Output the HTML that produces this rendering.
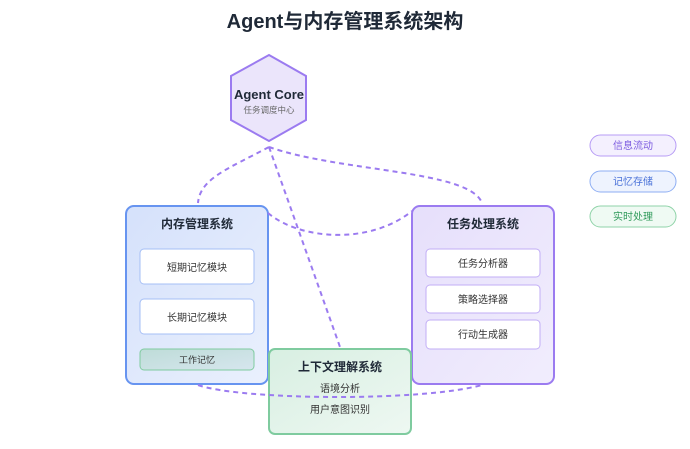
<!DOCTYPE html>
<html><head><meta charset="utf-8"><style>
body{margin:0;width:690px;height:449px;background:#fff;overflow:hidden;font-family:"Liberation Sans","Noto Sans CJK SC",sans-serif;}
svg{position:absolute;left:0;top:0}
</style></head><body>
<svg width="690" height="449" viewBox="0 0 690 449">
<defs>
<linearGradient id="gb" x1="0" y1="0" x2="1" y2="1"><stop offset="0" stop-color="#d5e1fb"/><stop offset="1" stop-color="#eaf0fd"/></linearGradient>
<linearGradient id="gp" x1="0" y1="0" x2="1" y2="1"><stop offset="0" stop-color="#e6dffb"/><stop offset="1" stop-color="#f1edfd"/></linearGradient>
<linearGradient id="gg" x1="0" y1="0" x2="1" y2="1"><stop offset="0" stop-color="#d8efe2"/><stop offset="1" stop-color="#eef8f2"/></linearGradient>
<linearGradient id="gw" x1="0" y1="0" x2="1" y2="1"><stop offset="0" stop-color="#bedcd8"/><stop offset="1" stop-color="#d6e6ee"/></linearGradient>
</defs>
<text x="345" y="28" text-anchor="middle" font-size="20" font-weight="bold" fill="#1f2937">Agent与内存管理系统架构</text>
<polygon points="269,55 306,76 306,120 269,141 231,120 231,76" fill="#ebe5fb" stroke="#9b7bf0" stroke-width="2"/>
<text x="269" y="99" text-anchor="middle" font-size="13" font-weight="bold" fill="#1f2937">Agent Core</text>
<text x="269" y="113" text-anchor="middle" font-size="8.5" fill="#666">任务调度中心</text>
<rect x="126" y="206" width="142" height="178" rx="8" fill="url(#gb)" stroke="#6794f0" stroke-width="2"/>
<text x="197" y="228" text-anchor="middle" font-size="12" font-weight="bold" fill="#1f2937">内存管理系统</text>
<rect x="140" y="249" width="114" height="35" rx="4" fill="#fff" stroke="#a5bff6"/>
<text x="197" y="271" text-anchor="middle" font-size="10" fill="#333">短期记忆模块</text>
<rect x="140" y="299" width="114" height="35" rx="4" fill="#fff" stroke="#a5bff6"/>
<text x="197" y="321" text-anchor="middle" font-size="10" fill="#333">长期记忆模块</text>
<rect x="140" y="349" width="114" height="21" rx="4" fill="url(#gw)" stroke="#7fcb9f"/>
<text x="197" y="363" text-anchor="middle" font-size="9" fill="#333">工作记忆</text>
<rect x="412" y="206" width="142" height="178" rx="8" fill="url(#gp)" stroke="#9b7bf0" stroke-width="2"/>
<text x="483" y="228" text-anchor="middle" font-size="12" font-weight="bold" fill="#1f2937">任务处理系统</text>
<rect x="426" y="249" width="114" height="28" rx="4" fill="#fff" stroke="#c2aef6"/>
<text x="483" y="267" text-anchor="middle" font-size="10" fill="#333">任务分析器</text>
<rect x="426" y="285" width="114" height="28" rx="4" fill="#fff" stroke="#c2aef6"/>
<text x="483" y="303" text-anchor="middle" font-size="10" fill="#333">策略选择器</text>
<rect x="426" y="320" width="114" height="29" rx="4" fill="#fff" stroke="#c2aef6"/>
<text x="483" y="338" text-anchor="middle" font-size="10" fill="#333">行动生成器</text>
<rect x="269" y="349" width="142" height="85" rx="6" fill="url(#gg)" stroke="#7fcb9f" stroke-width="2"/>
<text x="340" y="371" text-anchor="middle" font-size="12" font-weight="bold" fill="#1f2937">上下文理解系统</text>
<text x="340" y="392" text-anchor="middle" font-size="10" fill="#333">语境分析</text>
<text x="340" y="413" text-anchor="middle" font-size="10" fill="#333">用户意图识别</text>
<g fill="none" stroke="#9b7bf0" stroke-width="2" stroke-dasharray="5,4">
<path d="M269,147 C230,168 200,178 198,203"/>
<path d="M269,147 C340,172 470,170 482,203"/>
<path d="M269,147 L340,347"/>
<path d="M268,213 C300,240 370,245 412,211"/>
<path d="M198,385 C240,400 420,402 482,385"/>
</g>
<rect x="590" y="135" width="86" height="21" rx="10.5" fill="#f4f0fe" stroke="#b79cf5"/>
<text x="633" y="149" text-anchor="middle" font-size="10" fill="#7c5ce0">信息流动</text>
<rect x="590" y="171" width="86" height="21" rx="10.5" fill="#eef3fe" stroke="#8eaef3"/>
<text x="633" y="185" text-anchor="middle" font-size="10" fill="#4a72d8">记忆存储</text>
<rect x="590" y="206" width="86" height="21" rx="10.5" fill="#effaf3" stroke="#8fd3a8"/>
<text x="633" y="220" text-anchor="middle" font-size="10" fill="#2f9a5a">实时处理</text>
</svg>
</body></html>
